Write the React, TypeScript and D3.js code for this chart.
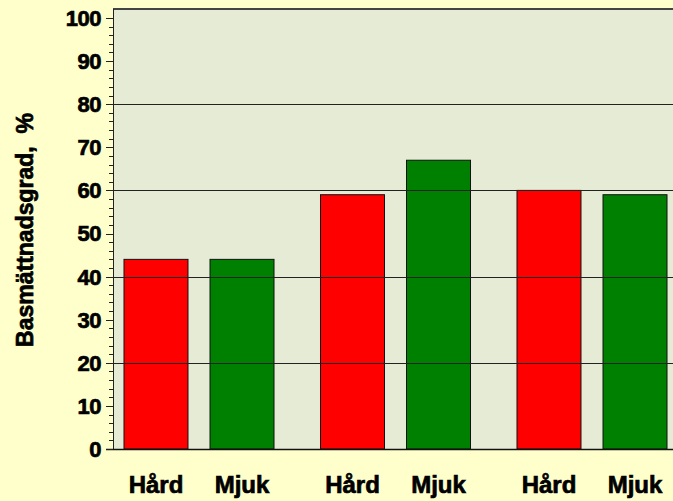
import { scaleBand, scaleLinear, range } from "d3";

const groups = ["g1", "g2", "g3"];
const series = ["Hård", "Mjuk"];
const hardValues = [44, 59, 60];
const mjukValues = [44, 67, 59];
const colors = ["#ff0000", "#008000"];
const yTitle = "Basmättnadsgrad,  %";

const W = 673;
const H = 501;
const plot = { left: 113, right: 673, top: 9, bottom: 449 };

export default function App() {
  const y = scaleLinear().domain([0, 100]).range([plot.bottom, 18]);
  const x0 = scaleBand()
    .domain(groups)
    .range([100.75, 690.25])
    .paddingInner(0.2366)
    .paddingOuter(0.1183);
  const x1 = scaleBand().domain(series).range([0, x0.bandwidth()]).paddingInner(0.256);

  const majorTicks = y.ticks(10);
  const minorTicks = range(0, 101, 2).filter((d) => d % 10 !== 0);
  const gridLines = [20, 40, 60, 80];

  const bars = groups.flatMap((g, i) => [
    { g, s: series[0], value: hardValues[i], color: colors[0] },
    { g, s: series[1], value: mjukValues[i], color: colors[1] },
  ]);

  const font = "'Liberation Sans', Arial, sans-serif";
  // the original lettering is heavier than plain bold
  const heavy = { stroke: "#000", strokeWidth: 0.7, paintOrder: "stroke" as const };

  return (
    <svg
      width={W}
      height={H}
      style={{ position: "absolute", left: 0, top: 0 }}
      fontFamily={font}
    >
      <rect width={W} height={H} fill="#ffffcc" />
      <rect
        x={plot.left}
        y={plot.top}
        width={plot.right - plot.left}
        height={plot.bottom - plot.top}
        fill="#e6ebd6"
      />
      <line x1={plot.left} x2={plot.right} y1={plot.top} y2={plot.top} stroke="#444" strokeWidth={2} />

      {bars.map((b) => (
        <rect
          key={b.g + b.s}
          x={(x0(b.g) ?? 0) + (x1(b.s) ?? 0)}
          y={y(b.value)}
          width={x1.bandwidth()}
          height={plot.bottom - y(b.value)}
          fill={b.color}
          stroke="#111"
          strokeWidth={1}
        />
      ))}

      {gridLines.map((d) => (
        <line
          key={d}
          x1={plot.left}
          x2={plot.right}
          y1={Math.round(y(d)) + 0.5}
          y2={Math.round(y(d)) + 0.5}
          stroke="#222"
          strokeWidth={1}
        />
      ))}

      {/* axes */}
      <line x1={plot.left + 0.5} x2={plot.left + 0.5} y1={plot.top} y2={plot.bottom} stroke="#222" />
      <line x1={plot.left - 7} x2={plot.right} y1={plot.bottom + 0.5} y2={plot.bottom + 0.5} stroke="#111" strokeWidth={1.5} />

      {minorTicks.map((d) => (
        <line
          key={"m" + d}
          x1={plot.left - 4}
          x2={plot.left}
          y1={Math.round(y(d)) + 0.5}
          y2={Math.round(y(d)) + 0.5}
          stroke="#222"
        />
      ))}
      {majorTicks.map((d) => (
        <g key={"t" + d}>
          <line
            x1={plot.left - 7}
            x2={plot.left}
            y1={Math.round(y(d)) + 0.5}
            y2={Math.round(y(d)) + 0.5}
            stroke="#222"
          />
          <text
            x={101}
            y={y(d)}
            dy="0.36em"
            textAnchor="end"
            fontSize={22}
            fontWeight="bold"
            letterSpacing={-0.5}
            fill="#000"
            {...heavy}
          >
            {d}
          </text>
        </g>
      ))}

      {bars.map((b) => (
        <text
          key={"l" + b.g + b.s}
          x={(x0(b.g) ?? 0) + (x1(b.s) ?? 0) + x1.bandwidth() / 2}
          y={493}
          textAnchor="middle"
          fontSize={24}
          fontWeight="bold"
          fill="#000"
          {...heavy}
        >
          {b.s}
        </text>
      ))}

      <text
        transform={`translate(33, 230) rotate(-90)`}
        textAnchor="middle"
        fontSize={23}
        fontWeight="bold"
        fill="#000"
        style={{ whiteSpace: "pre" }}
        {...heavy}
      >
        {yTitle}
      </text>
    </svg>
  );
}
